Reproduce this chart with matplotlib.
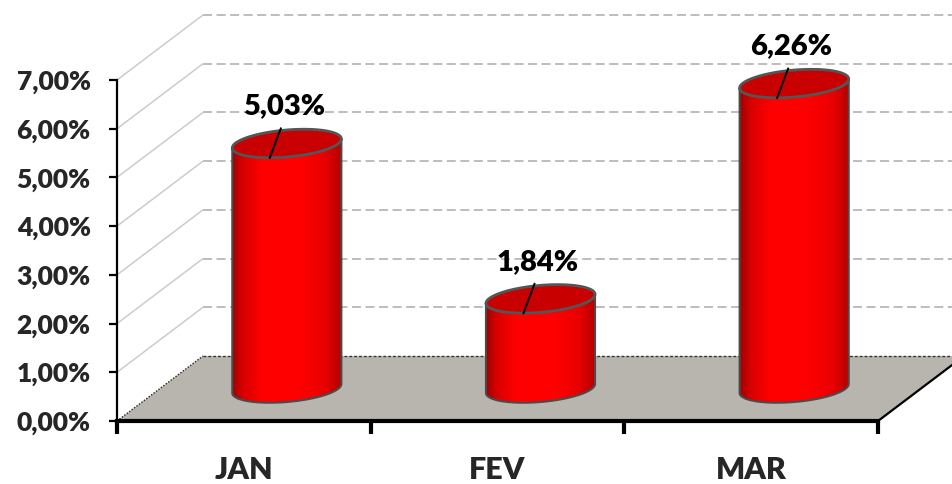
import numpy as np
import matplotlib
matplotlib.use("Agg")
import matplotlib.pyplot as plt
from matplotlib.patches import Polygon
from matplotlib.colors import LinearSegmentedColormap

# ---- data ----
categories = ["JAN", "FEV", "MAR"]
values = [5.03, 1.84, 6.26]
value_labels = ["5,03%", "1,84%", "6,26%"]
yticks = [0, 1, 2, 3, 4, 5, 6, 7]
ytick_labels = ["0,00%", "1,00%", "2,00%", "3,00%", "4,00%", "5,00%", "6,00%", "7,00%"]

plt.rcParams['font.family'] = ['Lato', 'DejaVu Sans']
WEIGHT = 'heavy'

W, H = 952, 484
fig = plt.figure(figsize=(W / 100, H / 100), dpi=100)
fig.patch.set_facecolor('white')

# layout (pixels)
X0, X1 = 117, 878          # front axis left/right
Y0, Y7 = 63, 404           # value 0 and 7 from the bottom
PX_X = (X1 - X0) / 3.0
PX_Y = (Y7 - Y0) / 7.0
ax = fig.add_axes([X0 / W, Y0 / H, (W - X0) / W, (H - Y0) / H])
xmin, xmax = -0.5, -0.5 + (W - X0) / PX_X
ymin, ymax = 0, (H - Y0) / PX_Y

DX = 86 / PX_X
DY = 65 / PX_Y

# back wall
for v in yticks[1:]:
    ax.plot([-0.5, -0.5 + DX], [v, v + DY], color='#cccccc', lw=1.1, zorder=1,
            solid_capstyle='butt')
    ax.plot([-0.5 + DX, xmax], [v + DY, v + DY], color='#b8b8b8', lw=1.3,
            ls=(0, (5, 2.5)), zorder=1)

# floor
floor = Polygon([(-0.5, 0), (2.5, 0), (2.5 + DX, DY), (-0.5 + DX, DY)],
                closed=True, facecolor='#b8b5ae', edgecolor='none', zorder=2)
ax.add_patch(floor)
ax.plot([-0.5 + DX, xmax], [DY, DY], color='#333333', lw=1.0, ls=(0, (2, 1.5)), zorder=2.1)
ax.plot([-0.5, -0.5 + DX], [0, DY], color='#222222', lw=1.0, ls=(0, (1, 1.2)), zorder=2.1)
ax.plot([2.5, 2.5 + DX], [0, DY], color='black', lw=1.6, zorder=2.1)

# cylinders
a = 0.215
b = 13.5 / PX_Y
k = 4.5 / PX_Y
cmap = LinearSegmentedColormap.from_list('cyl', [
    (0.0, '#a00000'), (0.10, '#d80000'), (0.28, '#ff0000'), (0.62, '#ff0000'),
    (0.85, '#e80000'), (1.0, '#b00000')])
grad = np.linspace(0, 1, 256).reshape(1, -1)


def ell(cx, cy, t):
    return cx + a * np.cos(t), cy + b * np.sin(t) + k * np.cos(t)


for i, (v, lab) in enumerate(zip(values, value_labels)):
    cx = i + DX / 2
    cb = DY / 2
    ct = v + DY / 2
    tb = np.linspace(np.pi, 2 * np.pi, 80)
    xb, yb = ell(cx, cb, tb)
    xt, yt = ell(cx, ct, tb[::-1])
    pts = np.column_stack([np.concatenate([xb, xt]), np.concatenate([yb, yt])])
    body = Polygon(pts, closed=True, facecolor='none', edgecolor='#4a4a4a', lw=1.5, zorder=4)
    ax.add_patch(body)
    im = ax.imshow(grad, cmap=cmap, extent=[cx - a, cx + a, cb - b - k, ct + b + k],
                   aspect='auto', zorder=3, interpolation='bilinear')
    im.set_clip_path(body)
    tt = np.linspace(0, 2 * np.pi, 160)
    xe, ye = ell(cx, ct, tt)
    top = Polygon(np.column_stack([xe, ye]), closed=True, facecolor='#c80000',
                  edgecolor='#555555', lw=2.0, zorder=5)
    ax.add_patch(top)
    # label
    ly = ct + 37 / PX_Y
    ax.text(cx - 3 / PX_X, ly, lab, ha='center', va='center', fontsize=21,
            fontweight=WEIGHT, color='black', zorder=7)
    ex = -17 / PX_X
    c = ex / a
    s = -np.sqrt(1 - c * c)
    ax.plot([cx - 6 / PX_X, cx + ex], [ly - 22 / PX_Y, ct + b * s + k * c],
            color='black', lw=1.4, zorder=6)

ax.set_xlim(xmin, xmax)
ax.set_ylim(ymin, ymax)
ax.set_facecolor('none')
for sp in ['top', 'right']:
    ax.spines[sp].set_visible(False)
ax.spines['left'].set_bounds(0, 7)
ax.spines['left'].set_linewidth(1.6)
ax.spines['left'].set_zorder(8)
ax.spines['bottom'].set_bounds(-0.5, 2.5)
ax.spines['bottom'].set_linewidth(3.0)
ax.spines['bottom'].set_zorder(8)

ax.set_yticks(yticks)
ax.set_yticklabels(ytick_labels)
ax.tick_params(axis='y', length=6, width=1.6, pad=13, labelsize=19, labelcolor='#262626')
for t in ax.get_yticklabels():
    t.set_fontweight(WEIGHT)

ax.set_xticks([-0.5, 0.5, 1.5, 2.5])
ax.set_xticklabels([])
ax.tick_params(axis='x', which='major', length=9, width=3.0)
ax.set_xticks(range(len(categories)), minor=True)
ax.set_xticklabels(categories, minor=True)
ax.tick_params(axis='x', which='minor', length=0, pad=25, labelsize=22, labelcolor='#262626')
for t in ax.get_xticklabels(minor=True):
    t.set_fontweight(WEIGHT)

fig.savefig('out.png', dpi=100)
